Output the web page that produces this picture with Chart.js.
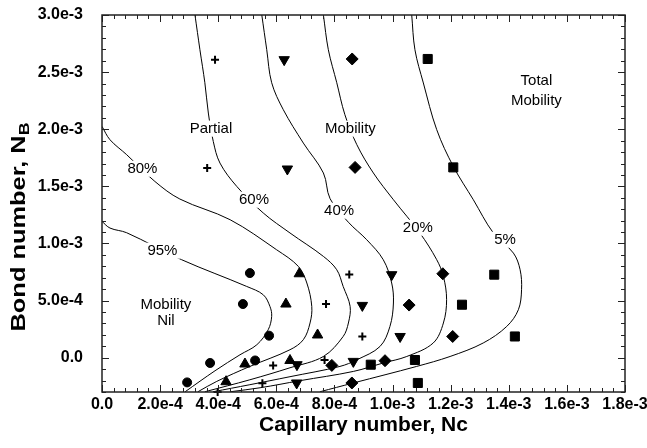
<!DOCTYPE html>
<html><head><meta charset="utf-8">
<script src="https://cdn.jsdelivr.net/npm/chart.js@4.4.1/dist/chart.umd.min.js"></script>
<style>html,body{margin:0;padding:0;background:#fff;}#wrap{width:647px;height:448px;}</style>
</head><body><div id="wrap"><canvas id="c" width="647" height="448"></canvas></div>
<script>
// ---- tick values / labels ----
const xTickValues = [0, 2e-4, 4e-4, 6e-4, 8e-4, 1.0e-3, 1.2e-3, 1.4e-3, 1.6e-3, 1.8e-3];
const xTickLabels = ['0.0','2.0e-4','4.0e-4','6.0e-4','8.0e-4','1.0e-3','1.2e-3','1.4e-3','1.6e-3','1.8e-3'];
const yTickValues = [0, 5e-4, 1.0e-3, 1.5e-3, 2.0e-3, 2.5e-3, 3.0e-3];
const yTickLabels = ['0.0','5.0e-4','1.0e-3','1.5e-3','2.0e-3','2.5e-3','3.0e-3'];

// ---- measured points (Capillary number Nc, Bond number NB) ----
const circleX = [5.09e-4, 4.85e-4, 5.75e-4, 5.27e-4, 3.72e-4, 2.93e-4];
const circleY = [7.41e-4, 4.70e-4, 1.93e-4, -2.4e-5, -4.6e-5, -2.16e-4];
const triUpX = [6.79e-4, 6.33e-4, 7.42e-4, 6.47e-4, 4.92e-4, 4.27e-4];
const triUpY = [7.35e-4, 4.70e-4, 1.99e-4, -2.4e-5, -5.5e-5, -2.10e-4];
const plusX = [3.89e-4, 3.62e-4, 8.51e-4, 7.71e-4, 8.96e-4, 7.66e-4, 5.89e-4, 5.52e-4, 3.98e-4];
const plusY = [2.609e-3, 1.661e-3, 7.29e-4, 4.70e-4, 1.86e-4, -2.0e-5, -6.7e-5, -2.23e-4, -3.0e-4];
const triDownX = [6.27e-4, 6.38e-4, 9.97e-4, 8.96e-4, 1.026e-3, 8.65e-4, 6.71e-4, 6.70e-4];
const triDownY = [2.609e-3, 1.652e-3, 7.27e-4, 4.58e-4, 1.86e-4, -3.2e-5, -6.1e-5, -2.21e-4];
const diamondX = [8.61e-4, 8.71e-4, 1.173e-3, 1.057e-3, 1.207e-3, 9.74e-4, 7.91e-4, 8.60e-4];
const diamondY = [2.615e-3, 1.666e-3, 7.35e-4, 4.61e-4, 1.86e-4, -2.6e-5, -6.7e-5, -2.21e-4];
const squareX = [1.121e-3, 1.209e-3, 1.350e-3, 1.239e-3, 1.421e-3, 1.077e-3, 9.25e-4, 1.087e-3];
const squareY = [2.615e-3, 1.666e-3, 7.27e-4, 4.64e-4, 1.86e-4, -2.0e-5, -6.1e-5, -2.21e-4];

// ---- iso-mobility curves ----
const c95X = [0, 0.275e-4, 0.85e-4, 2.74e-4, 4.98e-4, 5.55e-4, 5.78e-4, 5.84e-4, 5.72e-4, 5.33e-4, 4.75e-4, 3.89e-4, 2.86e-4];
const c95Y = [11.93e-4, 11.35e-4, 10.94e-4, 8.58e-4, 6.24e-4, 5.51e-4, 4.49e-4, 3.62e-4, 2.45e-4, 1.14e-4, 0.26e-4, -1.14e-4, -2.98e-4];
const c80X = [0, 0.275e-4, 0.85e-4, 1.82e-4, 2.68e-4, 4.41e-4, 6.01e-4, 6.76e-4, 7.05e-4, 7.22e-4, 7.16e-4, 6.93e-4, 6.47e-4, 5.09e-4, 3.95e-4, 3.30e-4];
const c80Y = [20.25e-4, 19.08e-4, 17.77e-4, 15.43e-4, 13.89e-4, 12.08e-4, 9.45e-4, 7.99e-4, 6.54e-4, 4.49e-4, 3.04e-4, 1.58e-4, 0.70e-4, -0.76e-4, -2.07e-4, -2.98e-4];
const c60X = [3.20e-4, 3.37e-4, 3.54e-4, 3.66e-4, 3.83e-4, 4.06e-4, 4.64e-4, 5.55e-4, 6.47e-4, 7.62e-4, 8.08e-4, 8.30e-4, 8.54e-4, 8.48e-4, 8.30e-4, 7.62e-4, 6.47e-4, 5.09e-4, 3.54e-4];
const c60Y = [30.0e-4, 26.96e-4, 24.07e-4, 21.42e-4, 18.93e-4, 17.04e-4, 14.99e-4, 12.67e-4, 10.92e-4, 8.87e-4, 7.70e-4, 6.24e-4, 4.49e-4, 3.04e-4, 1.86e-4, 0.11e-4, -0.88e-4, -1.93e-4, -2.98e-4];
const c40X = [5.50e-4, 5.67e-4, 5.84e-4, 6.24e-4, 6.93e-4, 7.62e-4, 7.85e-4, 8.48e-4, 9.11e-4, 9.68e-4, 9.97e-4, 10.03e-4, 9.91e-4, 9.57e-4, 8.77e-4, 8.19e-4, 6.47e-4, 5.09e-4, 3.82e-4];
const c40Y = [30.0e-4, 26.96e-4, 24.07e-4, 21.71e-4, 18.79e-4, 16.17e-4, 13.92e-4, 11.86e-4, 10.33e-4, 8.58e-4, 6.54e-4, 4.79e-4, 2.74e-4, 0.99e-4, -0.18e-4, -0.76e-4, -1.66e-4, -2.36e-4, -2.98e-4];
const c20X = [7.62e-4, 7.79e-4, 8.08e-4, 8.36e-4, 8.77e-4, 9.34e-4, 10.03e-4, 10.94e-4, 11.52e-4, 11.75e-4, 11.86e-4, 11.75e-4, 11.40e-4, 10.49e-4, 9.68e-4, 8.65e-4, 6.81e-4, 5.44e-4, 4.41e-4];
const c20Y = [30.0e-4, 26.96e-4, 24.07e-4, 21.27e-4, 18.65e-4, 16.17e-4, 13.83e-4, 10.92e-4, 8.58e-4, 7.12e-4, 5.08e-4, 3.04e-4, 1.29e-4, 0.11e-4, -0.46e-4, -1.20e-4, -2.01e-4, -2.63e-4, -2.98e-4];
const c5X = [10.66e-4, 10.77e-4, 11.06e-4, 11.52e-4, 12.09e-4, 12.78e-4, 13.47e-4, 14.16e-4, 14.39e-4, 14.44e-4, 14.33e-4, 13.93e-4, 13.12e-4, 11.98e-4, 10.83e-4, 8.65e-4, 7.50e-4];
const c5Y = [30.0e-4, 26.96e-4, 24.05e-4, 19.96e-4, 16.75e-4, 13.83e-4, 10.92e-4, 9.16e-4, 7.70e-4, 5.95e-4, 4.20e-4, 2.74e-4, 1.29e-4, 0.11e-4, -0.76e-4, -2.21e-4, -2.98e-4];

// ---- text annotations ----
const noteText = ['95%', '80%', '60%', '40%', '20%', '5%', 'Partial', 'Mobility', 'Total', 'Mobility', 'Mobility', 'Nil'];
const noteX = [2.08e-4, 1.39e-4, 5.23e-4, 8.16e-4, 10.87e-4, 13.87e-4, 3.75e-4, 8.55e-4, 14.95e-4, 14.95e-4, 2.20e-4, 2.20e-4];
const noteY = [9.37e-4, 16.54e-4, 13.83e-4, 12.87e-4, 11.38e-4, 10.33e-4, 20.05e-4, 20.05e-4, 24.20e-4, 22.50e-4, 4.60e-4, 3.19e-4];
const xTitle = 'Capillary number, Nc';
const yTitleMain = 'Bond number, N';
const yTitleSub = 'B';

const FONT = "'Liberation Sans', Arial, Helvetica, sans-serif";
const zip = (xs, ys) => xs.map((v, i) => ({x: v, y: ys[i]}));

function curve(xs, ys) {
  return {data: zip(xs, ys), showLine: true, pointRadius: 0, borderColor: '#000', borderWidth: 1, tension: 0.35, fill: false};
}
function marks(xs, ys, style, r, rot, bw) {
  return {data: zip(xs, ys), showLine: false, pointStyle: style, pointRadius: r, pointRotation: rot || 0,
    backgroundColor: '#000', borderColor: '#000', borderWidth: bw || 1, clip: false};
}

const deco = {
  id: 'deco',
  afterDatasetsDraw(chart) {
    const {ctx, scales: {x, y}} = chart;
    ctx.save();
    ctx.font = '15px ' + FONT;
    ctx.textAlign = 'center';
    ctx.textBaseline = 'middle';
    noteText.forEach((t, i) => {
      const px = x.getPixelForValue(noteX[i]), py = y.getPixelForValue(noteY[i]);
      const w = ctx.measureText(t).width;
      ctx.fillStyle = '#fff';
      ctx.fillRect(px - w / 2 - 3, py - 8, w + 6, 16);
      ctx.fillStyle = '#000';
      ctx.fillText(t, px, py);
    });
    ctx.restore();
  },
  afterDraw(chart) {
    const {ctx, chartArea: a, scales: {x, y}} = chart;
    ctx.save();
    ctx.strokeStyle = '#222';
    ctx.lineWidth = 1;
    // inward ticks on all four sides
    for (let i = 0; i <= 45; i++) {
      const px = Math.round(x.getPixelForValue(i * 4e-5)) + 0.5;
      const L = (i % 5 === 0) ? 7 : 4;
      ctx.beginPath();
      ctx.moveTo(px, a.bottom); ctx.lineTo(px, a.bottom - L);
      ctx.moveTo(px, a.top); ctx.lineTo(px, a.top + L);
      ctx.stroke();
    }
    for (let i = -3; i <= 30; i++) {
      const py = Math.round(y.getPixelForValue(i * 1e-4)) + 0.5;
      const L = (i % 5 === 0) ? 7 : 4;
      ctx.beginPath();
      ctx.moveTo(a.left, py); ctx.lineTo(a.left + L, py);
      ctx.moveTo(a.right, py); ctx.lineTo(a.right - L, py);
      ctx.stroke();
    }
    ctx.lineWidth = 1.5;
    ctx.strokeRect(a.left, a.top, a.right - a.left, a.bottom - a.top);
    // axis titles
    ctx.fillStyle = '#000';
    ctx.font = 'bold 21px ' + FONT;
    ctx.textAlign = 'center';
    ctx.textBaseline = 'middle';
    ctx.fillText(xTitle, (a.left + a.right) / 2, 425);
    ctx.translate(25, 227);
    ctx.rotate(-Math.PI / 2);
    ctx.scale(1.27, 1);
    ctx.textBaseline = 'alphabetic';
    ctx.font = 'bold 20px ' + FONT;
    const wm = ctx.measureText(yTitleMain).width;
    ctx.font = 'bold 14px ' + FONT;
    const ws = ctx.measureText(yTitleSub).width;
    const start = -(wm + ws) / 2;
    ctx.textAlign = 'left';
    ctx.font = 'bold 20px ' + FONT;
    ctx.fillText(yTitleMain, start, 0);
    ctx.font = 'bold 14px ' + FONT;
    ctx.fillText(yTitleSub, start + wm, 4);
    ctx.restore();
  }
};

new Chart(document.getElementById('c'), {
  type: 'scatter',
  data: {datasets: [
    curve(c95X, c95Y), curve(c80X, c80Y), curve(c60X, c60Y), curve(c40X, c40Y), curve(c20X, c20Y), curve(c5X, c5Y),
    marks(circleX, circleY, 'circle', 4.5),
    marks(triUpX, triUpY, 'triangle', 6),
    marks(plusX, plusY, 'cross', 4, 0, 2),
    marks(triDownX, triDownY, 'triangle', 6, 180),
    marks(diamondX, diamondY, 'rectRot', 6),
    marks(squareX, squareY, 'rect', 6.4)
  ]},
  options: {
    animation: false, responsive: false, devicePixelRatio: 1,
    layout: {padding: {left: 0, right: 22, top: 15, bottom: 0}, autoPadding: false},
    plugins: {legend: {display: false}, tooltip: {enabled: false}},
    scales: {
      x: {type: 'linear', min: 0, max: 1.8e-3,
        afterBuildTicks: s => { s.ticks = xTickValues.map(v => ({value: v})); },
        afterFit: s => { s.height = 56; s.paddingLeft = 0; s.paddingRight = 0; },
        grid: {display: false, drawTicks: false}, border: {display: false},
        ticks: {padding: 3, color: '#000', maxRotation: 0, autoSkip: false,
          font: {family: FONT, size: 16, weight: 'bold'}, callback: (v, i) => xTickLabels[i]}},
      y: {type: 'linear', min: -3e-4, max: 3.0e-3,
        afterBuildTicks: s => { s.ticks = yTickValues.map(v => ({value: v})); },
        afterFit: s => { s.width = 102; s.paddingTop = 0; s.paddingBottom = 0; },
        grid: {display: false, drawTicks: false}, border: {display: false},
        ticks: {padding: 19, color: '#000', autoSkip: false,
          font: {family: FONT, size: 16, weight: 'bold'}, callback: (v, i) => yTickLabels[i]}}
    }
  },
  plugins: [deco]
});
</script></body></html>
